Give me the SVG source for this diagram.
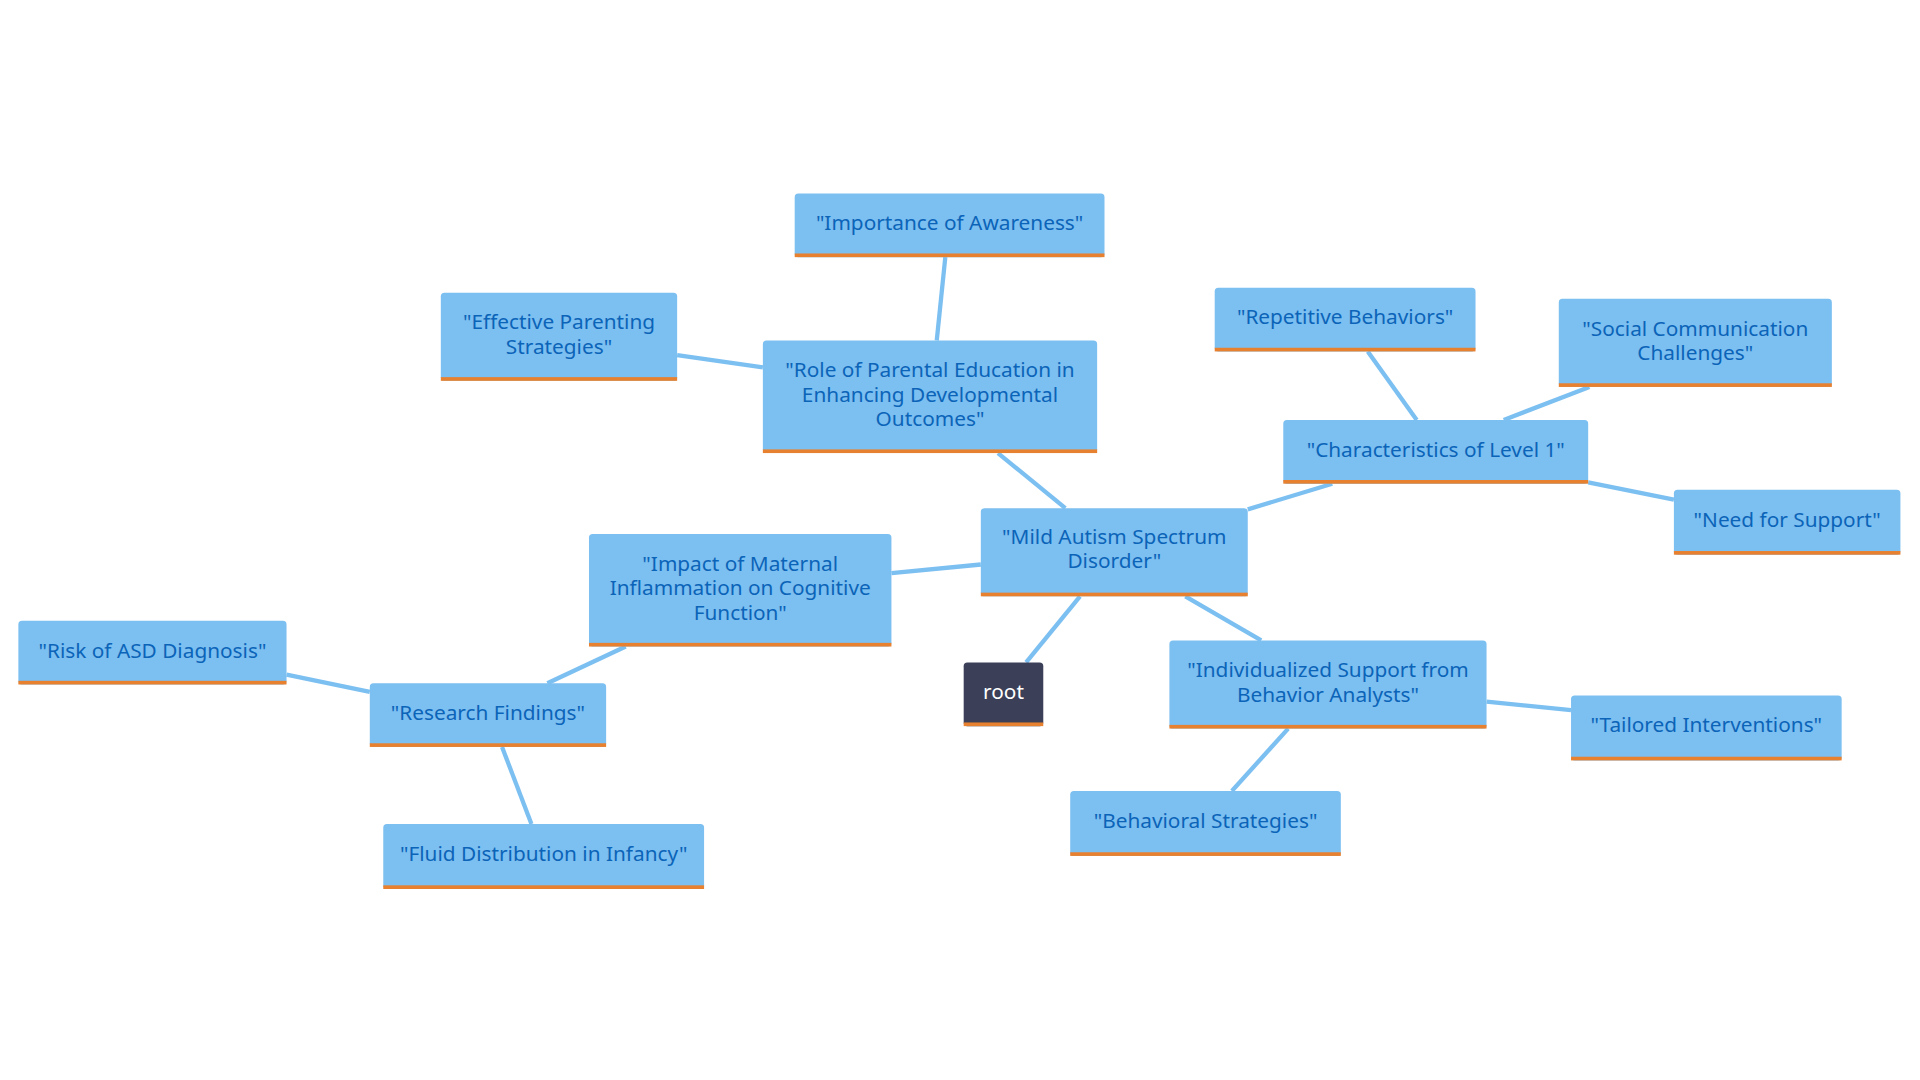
<svg xmlns="http://www.w3.org/2000/svg" width="1920" height="1080" viewBox="0 0 1920 1080">
<style>
.n{fill:#7cbff1}
.b{fill:#e8812f}
.t{font-family:"Noto Sans","Liberation Sans",sans-serif;font-size:17px;fill:#0b64b8;text-anchor:middle}
.e{stroke:#7cbff1;stroke-width:3.5;fill:none}
</style>
<rect width="1920" height="1080" fill="#fff"/>
<g transform="scale(1.2245)">
<g id="connectors">
<line class="e" x1="838" y1="541" x2="882" y2="487"/>
<line class="e" x1="870" y1="415" x2="815" y2="370"/>
<line class="e" x1="765" y1="278" x2="772" y2="210"/>
<line class="e" x1="623" y1="300" x2="553" y2="290"/>
<line class="e" x1="1019" y1="416" x2="1088" y2="395"/>
<line class="e" x1="1157" y1="343" x2="1117" y2="287"/>
<line class="e" x1="1228" y1="343" x2="1298" y2="316"/>
<line class="e" x1="1297" y1="394" x2="1367" y2="408"/>
<line class="e" x1="968" y1="487" x2="1030" y2="523"/>
<line class="e" x1="1214" y1="573" x2="1283" y2="580"/>
<line class="e" x1="1052" y1="595" x2="1006" y2="646"/>
<line class="e" x1="801" y1="461" x2="728" y2="468"/>
<line class="e" x1="511" y1="528" x2="447" y2="558"/>
<line class="e" x1="302" y1="565" x2="234" y2="551"/>
<line class="e" x1="410" y1="610" x2="434" y2="673"/>
</g>
<g id="root"><rect x="787" y="541" width="65" height="52" rx="3" fill="#3b3f58"/><rect class="b" x="787" y="590" width="65" height="3"/><text class="t" x="819.5" y="571" style="fill:#fff">root</text></g>
<g id="mild"><rect class="n" x="801" y="415" width="218" height="72" rx="3"/><rect class="b" x="801" y="484" width="218" height="3"/><text class="t" x="910" y="444">"Mild Autism Spectrum</text><text class="t" x="910" y="464">Disorder"</text></g>
<g id="role"><rect class="n" x="623" y="278" width="273" height="92" rx="3"/><rect class="b" x="623" y="367" width="273" height="3"/><text class="t" x="759.5" y="308">"Role of Parental Education in</text><text class="t" x="759.5" y="328">Enhancing Developmental</text><text class="t" x="759.5" y="348">Outcomes"</text></g>
<g id="aware"><rect class="n" x="649" y="158" width="253" height="52" rx="3"/><rect class="b" x="649" y="207" width="253" height="3"/><text class="t" x="775.5" y="188">"Importance of Awareness"</text></g>
<g id="parent"><rect class="n" x="360" y="239" width="193" height="72" rx="3"/><rect class="b" x="360" y="308" width="193" height="3"/><text class="t" x="456.5" y="269">"Effective Parenting</text><text class="t" x="456.5" y="289">Strategies"</text></g>
<g id="char"><rect class="n" x="1048" y="343" width="249" height="52" rx="3"/><rect class="b" x="1048" y="392" width="249" height="3"/><text class="t" x="1172.5" y="373">"Characteristics of Level 1"</text></g>
<g id="rep"><rect class="n" x="992" y="235" width="213" height="52" rx="3"/><rect class="b" x="992" y="284" width="213" height="3"/><text class="t" x="1098.5" y="265">"Repetitive Behaviors"</text></g>
<g id="social"><rect class="n" x="1273" y="244" width="223" height="72" rx="3"/><rect class="b" x="1273" y="313" width="223" height="3"/><text class="t" x="1384.5" y="274">"Social Communication</text><text class="t" x="1384.5" y="294">Challenges"</text></g>
<g id="need"><rect class="n" x="1367" y="400" width="185" height="53" rx="3"/><rect class="b" x="1367" y="450" width="185" height="3"/><text class="t" x="1459.5" y="430">"Need for Support"</text></g>
<g id="indiv"><rect class="n" x="955" y="523" width="259" height="72" rx="3"/><rect class="b" x="955" y="592" width="259" height="3"/><text class="t" x="1084.5" y="553">"Individualized Support from</text><text class="t" x="1084.5" y="573">Behavior Analysts"</text></g>
<g id="tailored"><rect class="n" x="1283" y="568" width="221" height="53" rx="3"/><rect class="b" x="1283" y="618" width="221" height="3"/><text class="t" x="1393.5" y="598">"Tailored Interventions"</text></g>
<g id="behav"><rect class="n" x="874" y="646" width="221" height="53" rx="3"/><rect class="b" x="874" y="696" width="221" height="3"/><text class="t" x="984.5" y="676">"Behavioral Strategies"</text></g>
<g id="impact"><rect class="n" x="481" y="436" width="247" height="92" rx="3"/><rect class="b" x="481" y="525" width="247" height="3"/><text class="t" x="604.5" y="466">"Impact of Maternal</text><text class="t" x="604.5" y="486">Inflammation on Cognitive</text><text class="t" x="604.5" y="506">Function"</text></g>
<g id="research"><rect class="n" x="302" y="558" width="193" height="52" rx="3"/><rect class="b" x="302" y="607" width="193" height="3"/><text class="t" x="398.5" y="588">"Research Findings"</text></g>
<g id="risk"><rect class="n" x="15" y="507" width="219" height="52" rx="3"/><rect class="b" x="15" y="556" width="219" height="3"/><text class="t" x="124.5" y="537">"Risk of ASD Diagnosis"</text></g>
<g id="fluid"><rect class="n" x="313" y="673" width="262" height="53" rx="3"/><rect class="b" x="313" y="723" width="262" height="3"/><text class="t" x="444" y="703">"Fluid Distribution in Infancy"</text></g>
</g>
</svg>
